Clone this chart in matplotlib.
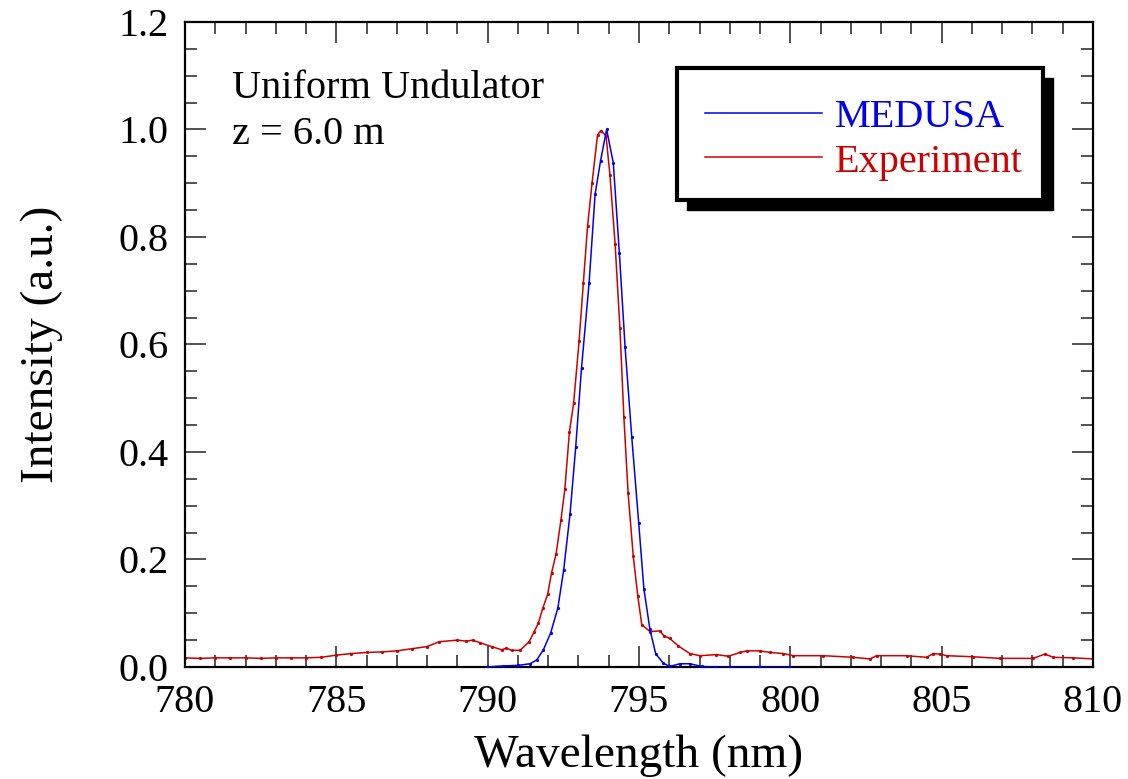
import matplotlib
matplotlib.use('Agg')
from matplotlib import pyplot as plt
from matplotlib.patches import Rectangle
from matplotlib.ticker import MultipleLocator

plt.rcParams['font.family'] = ['Liberation Serif', 'DejaVu Serif']

# MEDUSA simulation
medusa_wl = [790.0, 790.5, 791.0, 791.4, 791.62, 791.84, 792.08, 792.32, 792.51,
             792.72, 792.91, 793.10, 793.35, 793.55, 793.73, 793.93, 794.15,
             794.35, 794.54, 794.76, 794.99, 795.16, 795.36, 795.55, 795.80,
             796.02, 796.35, 796.68, 797.07, 797.5, 798.0, 799.0, 800.0]
medusa_int = [0.0, 0.002, 0.003, 0.006, 0.013, 0.032, 0.063, 0.110, 0.180,
              0.284, 0.410, 0.556, 0.714, 0.880, 0.942, 1.000, 0.938,
              0.771, 0.595, 0.428, 0.268, 0.146, 0.070, 0.025, 0.007,
              0.001, 0.006, 0.006, 0.001, 0.0, 0.0, 0.0, 0.0]

# measured spectrum
exp_wl = [780.0, 780.5, 781.0, 781.5, 782.0, 782.5, 783.0, 783.5, 784.0, 784.5,
          785.0, 785.5, 786.0, 786.5, 787.0, 787.5, 788.0, 788.4, 789.0, 789.3,
          789.5, 789.75, 790.13, 790.46, 790.62, 790.79, 791.07, 791.37, 791.54,
          791.67, 791.82, 791.98, 792.11, 792.26, 792.42, 792.55, 792.70, 792.84,
          793.02, 793.16, 793.30, 793.45, 793.63, 793.74, 793.91, 794.04, 794.21,
          794.37, 794.50, 794.64, 794.81, 794.96, 795.09, 795.36, 795.69, 795.82,
          796.02, 796.30, 796.68, 797.01, 797.56, 797.95, 798.34, 798.56, 799.0,
          799.33, 799.77, 800.1, 801.09, 802.08, 802.63, 802.85, 803.84, 804.5,
          804.72, 804.94, 805.16, 806.04, 806.92, 808.02, 808.41, 808.69, 809.35,
          810.0]
exp_int = [0.017, 0.016, 0.017, 0.017, 0.017, 0.016, 0.017, 0.017, 0.017, 0.018,
           0.022, 0.025, 0.027, 0.028, 0.030, 0.034, 0.038, 0.047, 0.050, 0.048,
           0.050, 0.045, 0.038, 0.032, 0.035, 0.031, 0.031, 0.047, 0.066,
           0.081, 0.109, 0.135, 0.175, 0.210, 0.273, 0.331, 0.437, 0.491,
           0.606, 0.714, 0.820, 0.901, 0.990, 0.998, 0.988, 0.915, 0.787,
           0.630, 0.465, 0.323, 0.206, 0.132, 0.079, 0.066, 0.067, 0.058,
           0.053, 0.039, 0.025, 0.021, 0.023, 0.020, 0.027, 0.030, 0.030,
           0.027, 0.025, 0.021, 0.021, 0.018, 0.015, 0.021, 0.021, 0.018,
           0.025, 0.024, 0.021, 0.019, 0.016, 0.016, 0.024, 0.018, 0.017,
           0.015]

fig = plt.figure(figsize=(11.28, 7.79), dpi=100)
ax = fig.add_axes([0.164, 0.1438, 0.805, 0.828])

ax.plot(medusa_wl, medusa_int, color='#0000ee', lw=1.1, marker='o', ms=1.3,
        label='MEDUSA', zorder=3)
ax.plot(exp_wl, exp_int, color='#cc0000', lw=1.1, marker='o', ms=1.3,
        label='Experiment', zorder=2)

ax.set_xlim(780, 810)
ax.set_ylim(0, 1.2)
ax.xaxis.set_major_locator(MultipleLocator(5))
ax.xaxis.set_minor_locator(MultipleLocator(1))
ax.yaxis.set_major_locator(MultipleLocator(0.2))
ax.yaxis.set_minor_locator(MultipleLocator(0.05))
ax.yaxis.set_major_formatter(plt.FormatStrFormatter('%.1f'))
ax.tick_params(which='both', direction='in', top=True, right=True,
               labelsize=29, color='#333333', width=1.2)
ax.tick_params(which='major', length=15, pad=12)
ax.tick_params(which='minor', length=8.5)
for s in ax.spines.values():
    s.set_linewidth(1.6)

ax.set_xlabel('Wavelength (nm)', fontsize=34, labelpad=10)
ax.set_ylabel('Intensity (a.u.)', fontsize=34, labelpad=40)

ax.text(0.052, 0.897, 'Uniform Undulator', transform=ax.transAxes,
        fontsize=29, va='center', ha='left')
ax.text(0.052, 0.826, 'z = 6.0 m', transform=ax.transAxes,
        fontsize=29, va='center', ha='left')

# legend box with a solid drop shadow
box_x0, box_y0, box_w, box_h = 0.542, 0.724, 0.403, 0.205
ax.add_patch(Rectangle((box_x0 + 0.011, box_y0 - 0.016), box_w, box_h,
                       transform=ax.transAxes, facecolor='black',
                       edgecolor='black', zorder=8, clip_on=False))
ax.add_patch(Rectangle((box_x0, box_y0), box_w, box_h, transform=ax.transAxes,
                       facecolor='white', edgecolor='black', lw=3,
                       zorder=9, clip_on=False))

leg = ax.legend(loc='center', bbox_to_anchor=(box_x0 + box_w / 2 + 0.004,
                                              box_y0 + box_h / 2 - 0.009),
                fontsize=29, frameon=False, handlelength=2.9,
                handletextpad=0.33, labelspacing=0.18, borderpad=0,
                borderaxespad=0)
leg.set_zorder(10)
for txt, line in zip(leg.get_texts(), leg.get_lines()):
    txt.set_color(line.get_color())
    line.set_marker('')

fig.savefig('out.png', dpi=100)
